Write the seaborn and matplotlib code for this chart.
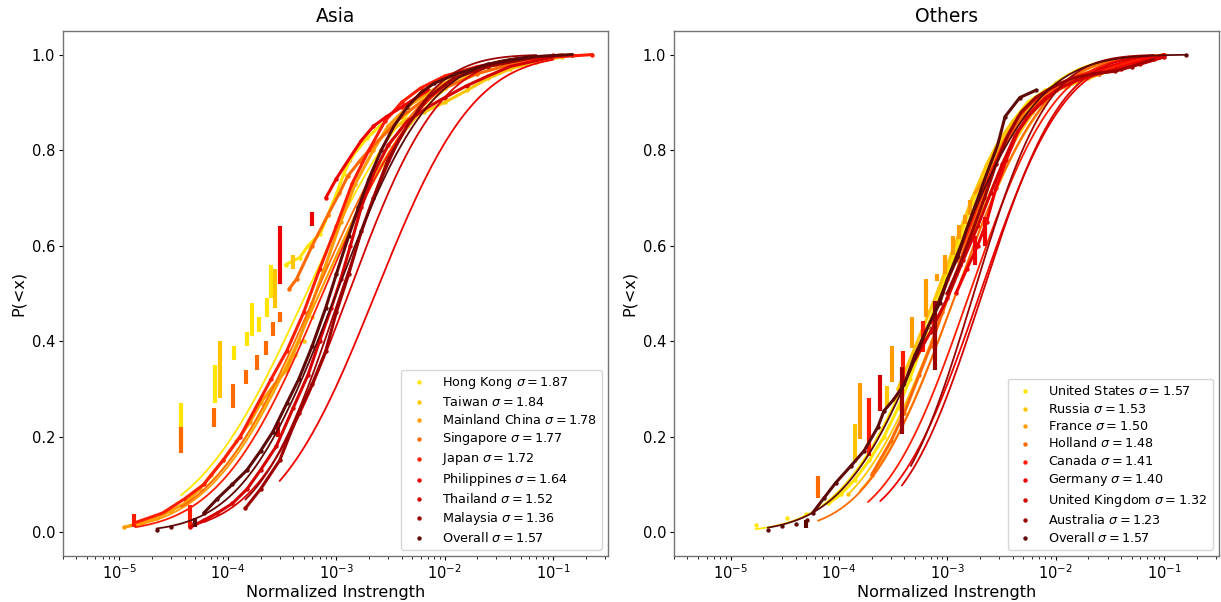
import math
import numpy as np
import pandas as pd
import matplotlib
matplotlib.use("Agg")
import matplotlib.pyplot as plt
import seaborn as sns

# colours, yellow -> dark red, one per series (same order in both panels)
colors = ["#ffe500", "#ffc600", "#ff9c00", "#ff6a00", "#ff1c00",
          "#ef0000", "#d40000", "#9c0000", "#5e0808"]

asia_names = ["Hong Kong", "Taiwan", "Mainland China", "Singapore", "Japan",
              "Philippines", "Thailand", "Malaysia", "Overall"]
asia_sigma = [1.87, 1.84, 1.78, 1.77, 1.72, 1.64, 1.52, 1.36, 1.57]
asia_median = [5.3e-4, 7.0e-4, 7.0e-4, 6.5e-4, 7.5e-4, 2.3e-3, 1.3e-3, 1.1e-3, 1.0e-3]
asia_xmin = [3.7e-5, 6.4e-5, 1.1e-5, 3.7e-5, 1.4e-5, 3.0e-4, 4.5e-5, 1.45e-4, 2.2e-5]
asia_xmax = [0.2, 0.12, 0.23, 0.12, 0.23, 0.1, 0.1, 0.07, 0.15]

# Asia empirical points: dense runs (x, p), lone points, and tied values (x, low, high)
hongkong_x = [3.4e-4, 4.6e-4, 5.5e-4, 7.1e-4, 8.4e-4, 9.9e-4, 1.17e-3, 1.38e-3, 1.92e-3, 2.6e-3]
hongkong_p = [0.56, 0.575, 0.60, 0.625, 0.665, 0.705, 0.75, 0.785, 0.825, 0.853]
hongkong_lone = []
hongkong_bars = [(3.7e-5, 0.18, 0.27), (7.6e-5, 0.27, 0.35), (1.15e-4, 0.36, 0.39),
                 (1.5e-4, 0.39, 0.42), (1.66e-4, 0.41, 0.48), (1.93e-4, 0.42, 0.45),
                 (2.3e-4, 0.45, 0.49), (2.5e-4, 0.49, 0.56)]
taiwan_x = [3.2e-3, 4.5e-3, 6.5e-3, 1e-2, 1.6e-2, 2.5e-2, 4e-2, 7e-2, 0.12]
taiwan_p = [0.84, 0.865, 0.88, 0.90, 0.925, 0.95, 0.97, 0.985, 0.995]
taiwan_lone = [(4.2e-4, 0.37), (5e-4, 0.40), (6e-4, 0.45)]
taiwan_bars = [(8.5e-5, 0.28, 0.40), (2.7e-4, 0.47, 0.55), (4.0e-4, 0.55, 0.58)]
china_x = [1.1e-5, 1.6e-5, 2.2e-5, 3e-5, 4e-5, 5.5e-5, 7e-5, 9e-5, 1.2e-4, 1.6e-4, 2e-4,
           2.7e-4, 3.5e-4, 4.5e-4, 6e-4, 8e-4, 1.1e-3, 1.5e-3, 2.2e-3, 3e-3, 4.5e-3,
           7e-3, 1.2e-2, 2.5e-2, 6e-2, 0.15]
china_p = [0.01, 0.02, 0.03, 0.045, 0.06, 0.09, 0.12, 0.15, 0.19, 0.23, 0.27, 0.31,
           0.34, 0.40, 0.48, 0.56, 0.65, 0.73, 0.80, 0.85, 0.89, 0.92, 0.95, 0.975,
           0.99, 1.0]
china_lone = []
china_bars = []
singapore_x = [3.7e-4, 4.3e-4, 6e-4, 8.4e-4, 1.07e-3, 1.27e-3, 1.64e-3, 2.2e-3, 3e-3,
               4e-3, 6e-3, 1e-2, 2e-2, 5e-2, 0.12]
singapore_p = [0.51, 0.53, 0.60, 0.665, 0.71, 0.745, 0.777, 0.81, 0.84, 0.87, 0.90,
               0.93, 0.96, 0.985, 1.0]
singapore_lone = []
singapore_bars = [(3.7e-5, 0.165, 0.22), (7.4e-5, 0.22, 0.26), (1.12e-4, 0.26, 0.31),
                  (1.47e-4, 0.31, 0.34), (1.86e-4, 0.34, 0.37), (2.25e-4, 0.37, 0.40),
                  (2.6e-4, 0.41, 0.44), (3.0e-4, 0.44, 0.46)]
japan_x = [1.4e-5, 2.5e-5, 4e-5, 6e-5, 9e-5, 1.3e-4, 1.8e-4, 2.5e-4, 3.5e-4, 5e-4, 7e-4,
           1e-3, 1.4e-3, 2e-3, 2.8e-3, 4e-3, 6e-3, 1e-2, 2e-2, 5e-2, 0.23]
japan_p = [0.02, 0.04, 0.07, 0.10, 0.15, 0.20, 0.26, 0.32, 0.38, 0.46, 0.55, 0.64, 0.73,
           0.80, 0.86, 0.90, 0.93, 0.955, 0.975, 0.99, 1.0]
japan_lone = []
japan_bars = [(1.35e-5, 0.01, 0.037), (4.5e-5, 0.01, 0.056)]
philippines_x = [8e-4, 1e-3, 1.3e-3, 1.7e-3, 2.2e-3, 2.9e-3, 4e-3, 5.5e-3, 7e-3]
philippines_p = [0.70, 0.74, 0.78, 0.82, 0.85, 0.87, 0.89, 0.91, 0.925]
philippines_lone = [(1.5e-2, 0.96), (3e-2, 0.98), (8e-2, 0.995), (0.1, 1.0)]
philippines_bars = [(3.0e-4, 0.52, 0.64), (6.0e-4, 0.64, 0.67)]
thailand_x = [4.5e-5, 6e-5, 8e-5, 1.1e-4, 1.5e-4, 2e-4, 2.8e-4, 4e-4, 5.5e-4, 7e-4, 9e-4,
              1.1e-3, 1.35e-3, 1.7e-3, 2.2e-3, 3e-3, 4.5e-3, 7e-3, 1e-2, 1.6e-2, 2.5e-2,
              4e-2, 0.1]
thailand_p = [0.01, 0.025, 0.04, 0.06, 0.09, 0.13, 0.18, 0.26, 0.33, 0.40, 0.47, 0.53,
              0.60, 0.68, 0.75, 0.81, 0.86, 0.89, 0.91, 0.935, 0.955, 0.975, 0.995]
thailand_lone = []
thailand_bars = [(2.9e-4, 0.20, 0.23)]
malaysia_x = [1.45e-4, 2e-4, 3e-4, 4.5e-4, 6e-4, 8e-4, 1e-3, 1.3e-3, 1.7e-3, 2.2e-3,
              3e-3, 4.5e-3, 7e-3, 1.2e-2, 2.5e-2, 7e-2]
malaysia_p = [0.05, 0.09, 0.15, 0.25, 0.31, 0.38, 0.46, 0.54, 0.63, 0.70, 0.78, 0.85,
              0.91, 0.95, 0.975, 0.995]
malaysia_lone = []
malaysia_bars = []
asia_all_x = [6e-5, 8e-5, 1.1e-4, 1.5e-4, 2e-4, 2.6e-4, 3.5e-4, 4.5e-4, 6e-4, 8e-4,
              1e-3, 1.3e-3, 1.6e-3, 2e-3, 2.6e-3, 3.4e-3, 4.5e-3, 6e-3, 8e-3, 1.3e-2,
              2.5e-2, 6e-2, 0.15]
asia_all_p = [0.04, 0.07, 0.10, 0.13, 0.17, 0.21, 0.27, 0.32, 0.39, 0.47, 0.54, 0.62,
              0.68, 0.74, 0.80, 0.85, 0.89, 0.92, 0.94, 0.96, 0.98, 0.995, 1.0]
asia_all_lone = [(2.2e-5, 0.005), (3e-5, 0.01), (4.5e-5, 0.02)]
asia_all_bars = [(5.0e-5, 0.01, 0.03)]

# ---------------- Others ----------------
other_names = ["United States", "Russia", "France", "Holland", "Canada", "Germany",
               "United Kingdom", "Australia", "Overall"]
other_sigma = [1.57, 1.53, 1.50, 1.48, 1.41, 1.40, 1.32, 1.23, 1.57]
other_median = [8.5e-4, 1.05e-3, 1.2e-3, 1.2e-3, 1.6e-3, 2.0e-3, 2.1e-3, 1.75e-3, 8.8e-4]
other_xmin = [1.7e-5, 1.2e-4, 1.56e-4, 6.4e-5, 1.85e-4, 2.4e-4, 3.8e-4, 4.6e-4, 2.2e-5]
other_xmax = [0.1, 0.09, 0.1, 0.1, 0.07, 0.1, 0.1, 0.08, 0.16]

usa_x = [8e-5, 1.05e-4, 1.4e-4, 1.9e-4, 2.6e-4, 3.5e-4, 4.5e-4, 6e-4, 8e-4, 1e-3,
         1.3e-3, 1.7e-3, 2.2e-3, 3e-3, 4e-3, 5.5e-3, 8e-3, 1.2e-2, 1.8e-2, 2.8e-2,
         5e-2, 0.1]
usa_p = [0.06, 0.08, 0.11, 0.15, 0.20, 0.26, 0.32, 0.40, 0.48, 0.55, 0.62, 0.69, 0.75,
         0.81, 0.86, 0.90, 0.925, 0.94, 0.955, 0.97, 0.985, 1.0]
usa_lone = [(1.7e-5, 0.014), (3.3e-5, 0.029), (5e-5, 0.037)]
usa_bars = []
russia_x = [3.5e-4, 4.5e-4, 6e-4, 8e-4, 1e-3, 1.3e-3, 1.7e-3, 2.3e-3, 3e-3, 4e-3, 6e-3,
            9e-3, 1.3e-2, 2e-2, 3e-2, 5e-2, 9e-2]
russia_p = [0.30, 0.36, 0.43, 0.50, 0.56, 0.63, 0.70, 0.77, 0.82, 0.86, 0.90, 0.92,
            0.935, 0.95, 0.965, 0.98, 0.995]
russia_lone = [(1.2e-4, 0.08)]
russia_bars = [(1.39e-4, 0.144, 0.227), (2.75e-4, 0.26, 0.305)]
france_x = [1.8e-3, 2.2e-3, 2.7e-3, 3.3e-3, 4e-3, 5e-3, 7e-3, 1e-2, 1.5e-2, 2.5e-2, 4e-2,
            7e-2, 0.1]
france_p = [0.71, 0.74, 0.78, 0.82, 0.85, 0.88, 0.91, 0.93, 0.95, 0.97, 0.98, 0.99, 1.0]
france_lone = []
france_bars = [(1.56e-4, 0.196, 0.313), (3.1e-4, 0.315, 0.39), (4.7e-4, 0.385, 0.45),
               (6.3e-4, 0.45, 0.53), (8.0e-4, 0.525, 0.54), (9.5e-4, 0.54, 0.58),
               (1.12e-3, 0.58, 0.62), (1.27e-3, 0.614, 0.643), (1.45e-3, 0.645, 0.665),
               (1.6e-3, 0.665, 0.695)]
holland_x = [2e-4, 3e-4, 4e-4, 5.5e-4, 7e-4, 9e-4, 1.2e-3, 1.5e-3, 2e-3, 2.6e-3, 3.5e-3,
             5e-3, 7e-3, 1e-2, 1.5e-2, 2.5e-2, 5e-2, 0.1]
holland_p = [0.12, 0.19, 0.25, 0.33, 0.39, 0.46, 0.54, 0.61, 0.69, 0.76, 0.82, 0.87,
             0.90, 0.925, 0.945, 0.965, 0.985, 1.0]
holland_lone = []
holland_bars = [(6.4e-5, 0.072, 0.117)]
canada_x = [7e-4, 9e-4, 1.2e-3, 1.6e-3, 2e-3, 2.6e-3, 3.4e-3, 4.5e-3, 6e-3, 8e-3, 1.1e-2,
            1.6e-2, 2.5e-2, 4e-2, 7e-2]
canada_p = [0.44, 0.50, 0.57, 0.64, 0.70, 0.76, 0.82, 0.87, 0.90, 0.92, 0.94, 0.955,
            0.97, 0.98, 0.99]
canada_lone = []
canada_bars = [(1.9e-4, 0.16, 0.28), (3.9e-4, 0.31, 0.38), (5.9e-4, 0.377, 0.443)]
germany_x = [1.2e-3, 1.5e-3, 1.9e-3, 2.3e-3, 2.8e-3, 3.5e-3, 4.5e-3, 6e-3, 8e-3, 1.2e-2,
             2e-2, 3.5e-2, 6e-2, 0.1]
germany_p = [0.50, 0.55, 0.60, 0.65, 0.72, 0.78, 0.84, 0.88, 0.91, 0.935, 0.955, 0.97,
             0.985, 1.0]
germany_lone = []
germany_bars = [(1.8e-3, 0.56, 0.62), (2.2e-3, 0.60, 0.66)]
uk_x = [5e-4, 7e-4, 1e-3, 1.4e-3, 1.9e-3, 2.5e-3, 3.2e-3, 4.2e-3, 5.5e-3, 7.5e-3, 1e-2,
        1.5e-2, 2.5e-2, 4e-2, 6e-2, 0.1]
uk_p = [0.36, 0.42, 0.49, 0.57, 0.64, 0.71, 0.77, 0.83, 0.87, 0.90, 0.925, 0.945, 0.96,
        0.97, 0.98, 0.995]
uk_lone = []
uk_bars = [(2.4e-4, 0.254, 0.33)]
australia_x = [1e-3, 1.3e-3, 1.7e-3, 2.2e-3, 2.8e-3, 3.6e-3, 4.8e-3, 6.5e-3, 9e-3, 1.4e-2,
               2.2e-2, 3.5e-2, 5e-2, 8e-2]
australia_p = [0.50, 0.56, 0.63, 0.70, 0.77, 0.83, 0.88, 0.91, 0.93, 0.95, 0.96, 0.965,
               0.975, 0.99]
australia_lone = []
australia_bars = [(3.8e-4, 0.206, 0.345), (7.6e-4, 0.34, 0.485)]
other_all_x = [5.7e-5, 7.3e-5, 9.3e-5, 1.28e-4, 1.7e-4, 2.28e-4, 2.6e-4, 3.2e-4, 4e-4,
               5e-4, 6.6e-4, 8.5e-4, 1e-3, 1.25e-3, 1.48e-3, 1.78e-3, 2.3e-3, 2.9e-3,
               3.4e-3, 4.65e-3, 6.5e-3]
other_all_p = [0.04, 0.072, 0.103, 0.138, 0.17, 0.22, 0.254, 0.278, 0.31, 0.37, 0.43,
               0.48, 0.53, 0.577, 0.63, 0.68, 0.75, 0.81, 0.87, 0.91, 0.925]
other_all_lone = [(2.2e-5, 0.005), (3e-5, 0.012), (4e-5, 0.018), (5.1e-5, 0.025),
                  (1e-2, 0.94), (1.6e-2, 0.955), (2.5e-2, 0.965), (4e-2, 0.975),
                  (7e-2, 0.99), (0.16, 1.0)]
other_all_bars = [(5.0e-5, 0.008, 0.025)]

asia_emp = [(hongkong_x, hongkong_p, hongkong_lone, hongkong_bars),
            (taiwan_x, taiwan_p, taiwan_lone, taiwan_bars),
            (china_x, china_p, china_lone, china_bars),
            (singapore_x, singapore_p, singapore_lone, singapore_bars),
            (japan_x, japan_p, japan_lone, japan_bars),
            (philippines_x, philippines_p, philippines_lone, philippines_bars),
            (thailand_x, thailand_p, thailand_lone, thailand_bars),
            (malaysia_x, malaysia_p, malaysia_lone, malaysia_bars),
            (asia_all_x, asia_all_p, asia_all_lone, asia_all_bars)]
other_emp = [(usa_x, usa_p, usa_lone, usa_bars),
             (russia_x, russia_p, russia_lone, russia_bars),
             (france_x, france_p, france_lone, france_bars),
             (holland_x, holland_p, holland_lone, holland_bars),
             (canada_x, canada_p, canada_lone, canada_bars),
             (germany_x, germany_p, germany_lone, germany_bars),
             (uk_x, uk_p, uk_lone, uk_bars),
             (australia_x, australia_p, australia_lone, australia_bars),
             (other_all_x, other_all_p, other_all_lone, other_all_bars)]


def lognorm_cdf(x, median, sigma):
    z = np.log(x / median) / (sigma * math.sqrt(2))
    return 0.5 * (1 + np.array([math.erf(v) for v in z]))


def draw_panel(ax, title, names, sigmas, medians, xmins, xmaxs, emp):
    for i, name in enumerate(names):
        c = colors[i]
        ex, ep, lone, bars = emp[i]
        df = pd.DataFrame({"x": ex, "p": ep})
        sns.lineplot(data=df, x="x", y="p", color=c, lw=2.2, sort=False, ax=ax,
                     solid_capstyle="round")
        if bars:
            bx, lo, hi = zip(*bars)
            ax.vlines(bx, lo, hi, color=c, lw=3.0)
        pts = df
        if lone:
            lx, lp = zip(*lone)
            pts = pd.concat([df, pd.DataFrame({"x": lx, "p": lp})])
        lab = name + r" $\sigma = %.2f$" % sigmas[i]
        sns.scatterplot(data=pts, x="x", y="p", color=c, s=10, linewidth=0, ax=ax,
                        label=lab)
        xs = np.geomspace(xmins[i], xmaxs[i], 200)
        fit = pd.DataFrame({"x": xs, "p": lognorm_cdf(xs, medians[i], sigmas[i])})
        sns.lineplot(data=fit, x="x", y="p", color=c, lw=1.3, ax=ax)
    h, l = ax.get_legend_handles_labels()
    keep = [(hh, ll) for hh, ll in zip(h, l) if "sigma" in ll]
    ax.legend([k[0] for k in keep], [k[1] for k in keep], loc="lower right",
              fontsize=9.2, labelspacing=0.3)
    ax.set_xscale("log")
    ax.set_xlim(3e-6, 0.32)
    ax.set_ylim(-0.05, 1.05)
    ax.set_yticks([0.0, 0.2, 0.4, 0.6, 0.8, 1.0])
    ax.set_title(title, fontsize=13.5)
    ax.set_xlabel("Normalized Instrength", fontsize=11.5, labelpad=2)
    ax.set_ylabel("P(<x)", fontsize=11.5)
    ax.tick_params(labelsize=10.5, length=3, pad=2.5)
    ax.tick_params(which="minor", length=1.8)
    for s in ax.spines.values():
        s.set_color("0.45")
        s.set_linewidth(1.0)


sns.set_style("ticks")
plt.rcParams['font.family'] = ['DejaVu Sans']
plt.rcParams.update({"text.color": "black", "axes.labelcolor": "black",
                     "xtick.color": "black", "ytick.color": "black",
                     "xtick.labelcolor": "black", "ytick.labelcolor": "black"})

fig, axes = plt.subplots(1, 2, figsize=(12.21, 6.02), dpi=100)
draw_panel(axes[0], "Asia", asia_names, asia_sigma, asia_median, asia_xmin, asia_xmax,
           asia_emp)
draw_panel(axes[1], "Others", other_names, other_sigma, other_median, other_xmin,
           other_xmax, other_emp)
plt.subplots_adjust(left=0.0514, right=0.9984, bottom=0.0764, top=0.949, wspace=0.121)
fig.savefig("out.png", dpi=100)
